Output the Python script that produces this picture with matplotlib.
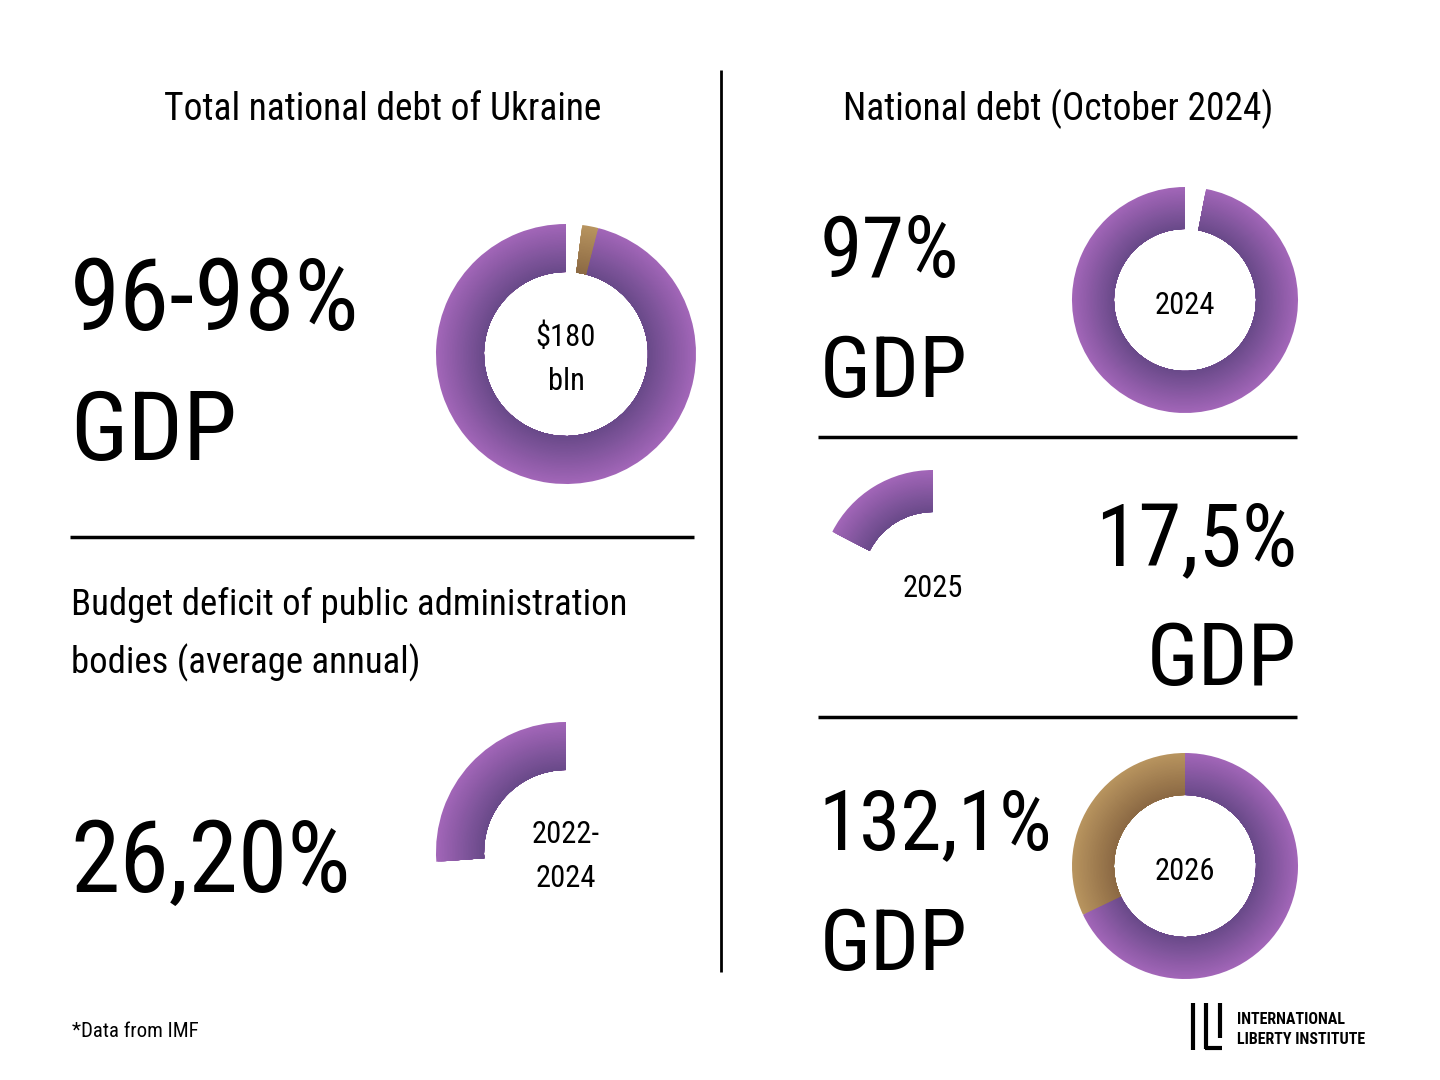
import numpy as np
import matplotlib
matplotlib.use("Agg")
import matplotlib.pyplot as plt
from matplotlib.colors import to_rgb

# ---------------- data ----------------
total_title = "Total national debt of Ukraine"
total_label = "96-98%\nGDP"
total_center = "$180\nbln"
total_shares = [2, 2, 96]            # gap, range (96-98), debt share  (clockwise from top)

deficit_title = "Budget deficit of public administration\nbodies (average annual)"
deficit_label = "26,20%"
deficit_center = "2022-\n2024"
deficit_shares = [26.2, 73.8]        # counter-clockwise from top

right_title = "National debt (October 2024)"
years = ["2024", "2025", "2026"]
year_labels = ["97%", "17,5%", "132,1%"]
shares_2024 = [3, 97]                # gap, debt (clockwise)
shares_2025 = [17.5, 82.5]           # value, rest (counter-clockwise)
shares_2026 = [32.1, 67.9]           # above 100%, 100% (counter-clockwise)

footnote = "*Data from IMF"
logo_lines = ["INTERNATIONAL", "LIBERTY INSTITUTE"]

# ---------------- style ----------------
FONT = ['Roboto Condensed', 'Liberation Sans Narrow', 'DejaVu Sans Condensed', 'Roboto', 'DejaVu Sans']
plt.rcParams['font.family'] = FONT

PURPLE_OUT, PURPLE_IN = to_rgb("#a266b8"), to_rgb("#6a4a8a")
BROWN_OUT, BROWN_IN = to_rgb("#b8945f"), to_rgb("#8c6a44")

fig = plt.figure(figsize=(14.4, 10.8), dpi=100)
ax = fig.add_axes([0, 0, 1, 1])
ax.set_xlim(0, 1440)
ax.set_ylim(1080, 0)
ax.axis('off')


def mix(c1, c2, t):
    return tuple(a + (b - a) * t for a, b in zip(c1, c2))


def gradient_donut(values, kinds, center, radius, width, clockwise, n=30):
    # y axis is inverted: data angle -90 is visually "up", and data
    # counter-clockwise is visually clockwise.
    inner = radius - width
    dr = width / n
    for i in range(n):
        t = i / (n - 1)
        r = radius - i * dr
        cols = []
        for k in kinds:
            if k == 'p':
                cols.append(mix(PURPLE_OUT, PURPLE_IN, t))
            elif k == 'b':
                cols.append(mix(BROWN_OUT, BROWN_IN, t))
            else:
                cols.append((1, 1, 1, 0))
        ax.pie(values, colors=cols, center=center, radius=r, startangle=-90,
               counterclock=clockwise, frame=True,
               wedgeprops=dict(width=r - inner, linewidth=0))
    ax.set_xlim(0, 1440)
    ax.set_ylim(1080, 0)
    ax.set_aspect('auto')


def txt(x, y, s, size, ha='left', va='baseline', **kw):
    ax.text(x, y, s, fontsize=size, ha=ha, va=va, color='black', **kw)


# ---------------- left column ----------------
txt(383, 120, total_title, 27, ha='center')
txt(70, 330, total_label.split("\n")[0], 73)
txt(70, 460, total_label.split("\n")[1], 70)
gradient_donut(total_shares, ['w', 'b', 'p'], (566, 354), 130, 48, clockwise=True)
c1, c2 = total_center.split("\n")
txt(566, 346, c1, 22, ha='center')
txt(566, 390, c2, 22, ha='center')

ax.plot([70, 694], [537, 537], color='black', lw=2.5, solid_capstyle='butt')

d1, d2 = deficit_title.split("\n")
txt(71, 615, d1, 26.5)
txt(71, 673, d2, 26.5)
txt(70, 892, deficit_label, 72)
gradient_donut(deficit_shares, ['p', 'w'], (566, 852), 130, 48, clockwise=False)
e1, e2 = deficit_center.split("\n")
txt(566, 843, e1, 22, ha='center')
txt(566, 887, e2, 22, ha='center')

# divider
ax.plot([721, 721], [70, 972], color='black', lw=2, solid_capstyle='butt')

# ---------------- right column ----------------
txt(1058, 120, right_title, 27, ha='center')

txt(820, 277, year_labels[0], 62)
txt(820, 397, "GDP", 62)
gradient_donut(shares_2024, ['w', 'p'], (1185, 300), 113, 42, clockwise=True)
txt(1185, 314, years[0], 22, ha='center')

ax.plot([818, 1297], [437, 437], color='black', lw=2.5, solid_capstyle='butt')

gradient_donut(shares_2025, ['p', 'w'], (933, 583), 113, 42, clockwise=False)
txt(933, 597, years[1], 22, ha='center')
txt(1297, 565, year_labels[1], 63, ha='right')
txt(1297, 685, "GDP", 63, ha='right')

ax.plot([818, 1297], [717, 717], color='black', lw=2.5, solid_capstyle='butt')

txt(818, 850, year_labels[2], 60)
txt(820, 970, "GDP", 62)
gradient_donut(shares_2026, ['b', 'p'], (1185, 866), 113, 42, clockwise=False)
txt(1185, 880, years[2], 22, ha='center')

# ---------------- footer ----------------
txt(72, 1037, footnote, 15)

# logo mark
ax.plot([1193, 1193], [1003, 1050], color='black', lw=3, solid_capstyle='butt')
ax.plot([1206, 1206], [1003, 1049], color='black', lw=3, solid_capstyle='butt')
ax.plot([1205, 1222], [1048, 1048], color='black', lw=3, solid_capstyle='butt')
ax.plot([1220, 1220], [1003, 1038], color='black', lw=3, solid_capstyle='butt')
txt(1237, 1024, logo_lines[0], 11.5, fontweight='bold')
txt(1237, 1044, logo_lines[1], 11.5, fontweight='bold')

fig.savefig("out.png", dpi=100, facecolor='white')
